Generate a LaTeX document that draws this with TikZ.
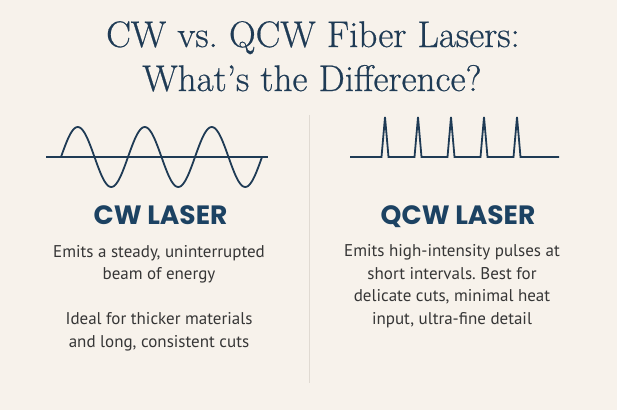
\documentclass[tikz,border=0pt]{standalone}
\usepackage{fontspec}
\newfontfamily\titlefont{Latin Modern Roman}[FakeBold=0.6]
\newfontfamily\headfont{Poppins}
\newfontfamily\bodyfont{PT Sans}
\usetikzlibrary{positioning}

\definecolor{cream}{HTML}{F7F2EB}
\definecolor{navy}{HTML}{1F3B55}
\definecolor{headnavy}{HTML}{1C4262}
\definecolor{bodygray}{HTML}{363636}
\definecolor{rulegray}{HTML}{E0DAD2}

\frenchspacing

\begin{document}
\begin{tikzpicture}[
    x=1pt, y=-1pt,
    title/.style={
        anchor=base,
        inner sep=0pt,
        text=navy,
        font=\titlefont\fontsize{37}{44}\selectfont
    },
    heading/.style={
        anchor=base,
        inner sep=0pt,
        text=headnavy,
        font=\headfont\bfseries\fontsize{26.5}{30}\selectfont
    },
    bodytext/.style={
        anchor=base,
        inner sep=0pt,
        align=center,
        text=bodygray,
        font=\bodyfont\fontsize{17}{22.5}\selectfont
    },
    wave/.style={
        draw=navy,
        line width=1.8pt
    },
    divider/.style={
        draw=rulegray,
        line width=1pt
    }
]

    % Background
    \fill[cream] (0,0) rectangle (617,410);
    \useasboundingbox (0,0) rectangle (617,410);

    % Title
    \node[title] (title1) at (313,47) {CW vs. QCW Fiber Lasers:};
    \node[title] (title2) at (312,91) {What’s the Difference?};

    % Divider
    \draw[divider] (309,115) -- (309,383);

    % CW side: continuous wave
    \draw[wave] (46,157) -- (268,157);
    \draw[wave] plot[domain=0:1080, samples=145, smooth] ({61+\x/360*67}, {157-30*sin(\x)});

    % QCW side: pulses
    \draw[wave] (350,157)
        \foreach \p in {385,418,451,484,517} { -- (\p-3.5,157) -- (\p,117) -- (\p+3.5,157) }
        -- (559,157);

    % Headings
    \node[heading] (cwhead) at (160.5,224) {CW LASER};
    \node[heading] (qcwhead) at (458,224) {QCW LASER};

    % Descriptions (base = last line)
    \node[bodytext] (cwtext) at (159,347) {Emits a steady, uninterrupted\\beam of energy\\[22.5pt]Ideal for thicker materials\\and long, consistent cuts};
    \node[bodytext] (qcwtext) at (452,324) {Emits high-intensity pulses at\\short intervals. Best for\\delicate cuts, minimal heat\\input, ultra-fine detail};
\end{tikzpicture}
\end{document}
